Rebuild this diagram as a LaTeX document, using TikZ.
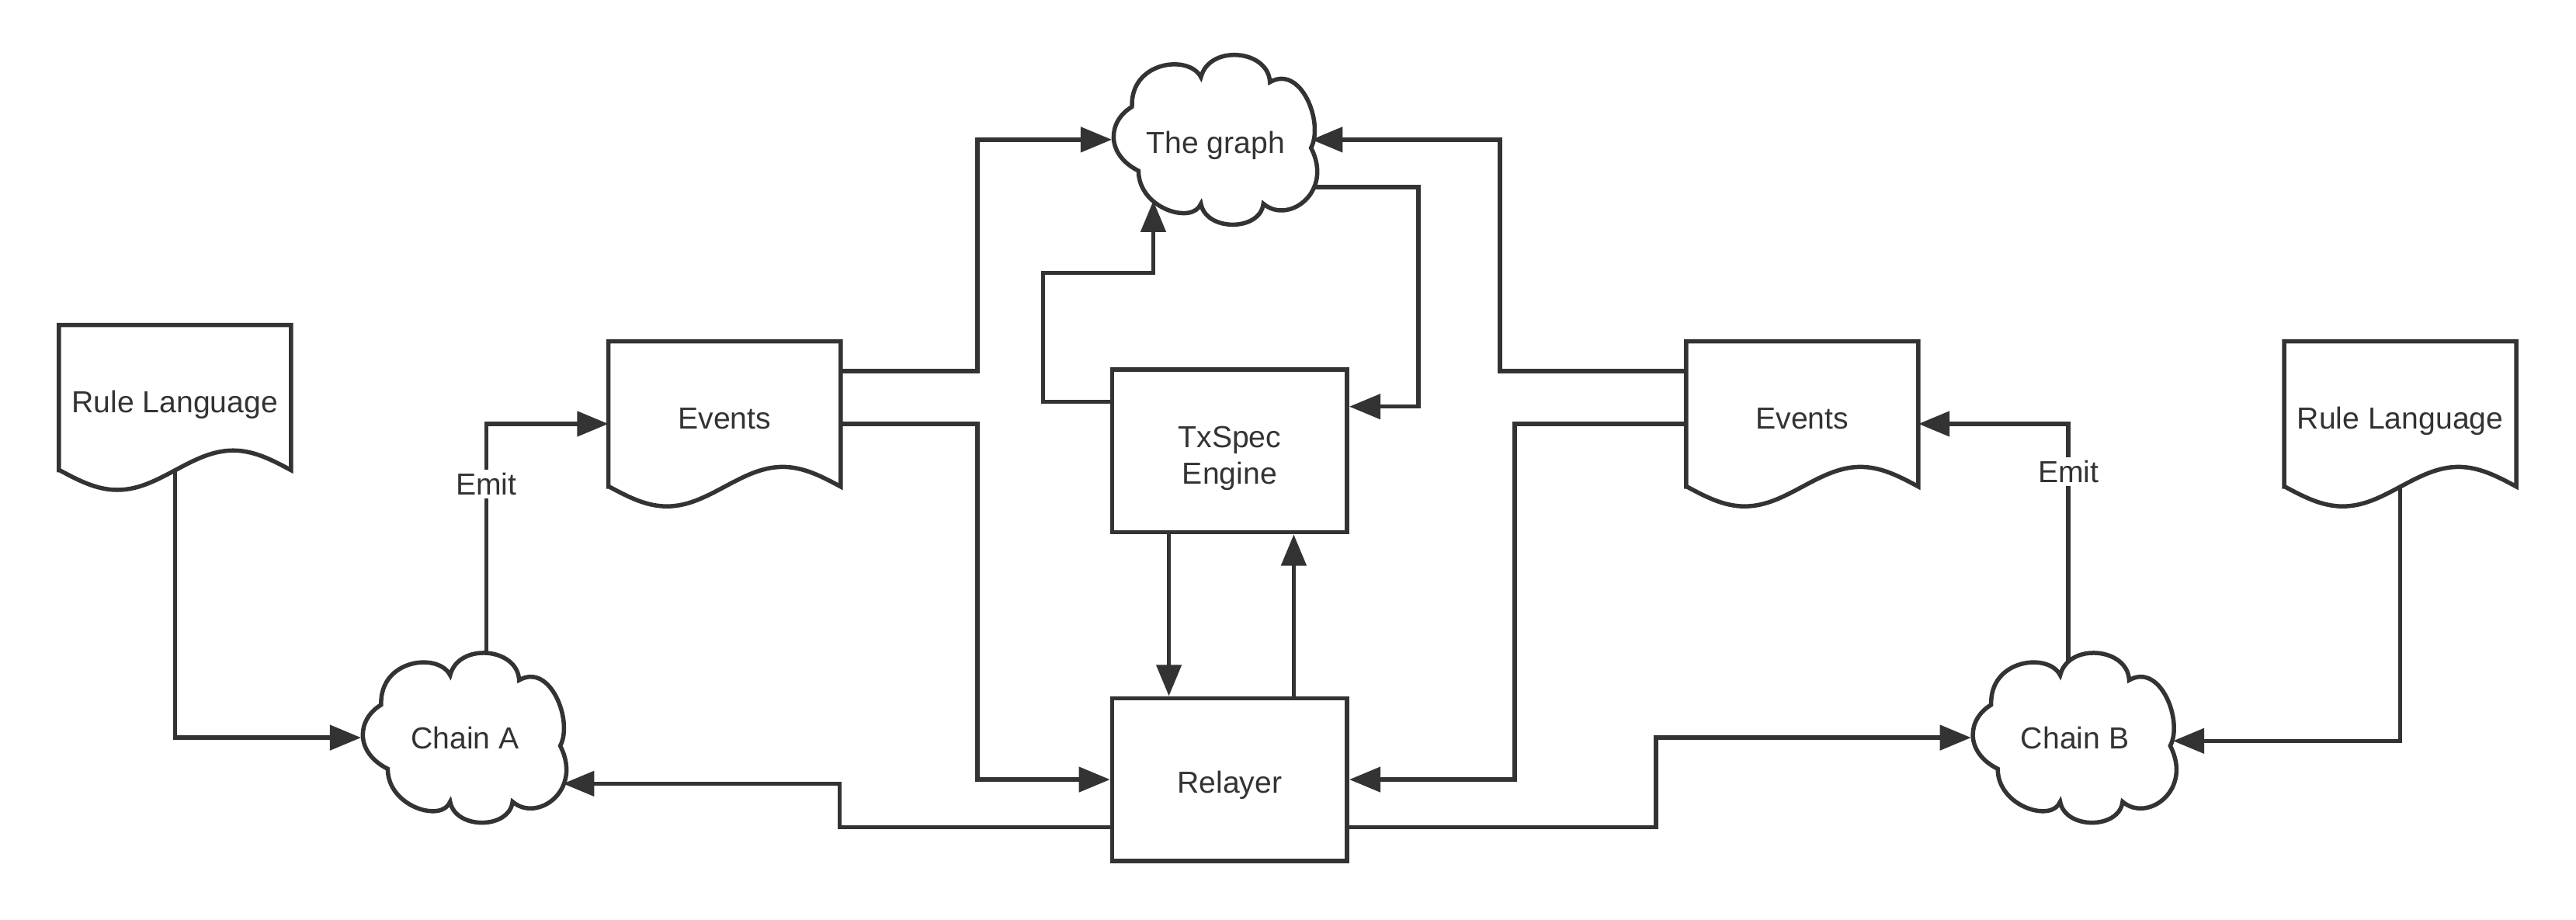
\documentclass[tikz,border=0pt]{standalone}
\usepackage{fontspec}
\setmainfont{Liberation Sans}
\usepackage{xcolor}
\usepackage{tikz}
\usetikzlibrary{
    calc,
    arrows.meta
}
\definecolor{ink}{HTML}{333333}
\tikzset{
    wire/.style={draw=ink, line width=2.6bp},
    arr/.style={wire, -{Triangle[length=19bp,width=15bp]}},
    tag/.style={fill=white, inner sep=2bp},
    box/.style={wire, minimum width=143bp, minimum height=99bp, inner sep=0pt, align=center,
        text height=16bp, text depth=0pt},
    doc/.style={minimum width=141bp, minimum height=88bp, inner sep=0pt,
        text height=18bp, text depth=0pt,
        append after command={\pgfextra{
            \draw[wire] (\tikzlastnode.south west) -- (\tikzlastnode.north west)
                -- (\tikzlastnode.north east) -- (\tikzlastnode.south east)
                sin ++(-35.25,-12) cos ++(-35.25,12) sin ++(-35.25,12) cos ++(-35.25,-12) -- cycle;
        }}},
    puffy/.style={minimum width=126bp, minimum height=100bp, inner sep=0pt,
        text height=14bp, text depth=0pt,
        append after command={\pgfextra{
            \draw[wire, shift={(\tikzlastnode.center)}]
                (-51,-20) .. controls (-66,-11) and (-67,9) .. (-47,19)
                .. controls (-47,42) and (-14,52) .. (-9,39)
                .. controls (-6,56) and (27,56) .. (29,39)
                .. controls (44,52) and (72,32) .. (58,5)
                .. controls (66,-10) and (52,-46) .. (33,-35)
                .. controls (32,-55) and (-4,-58) .. (-9,-38)
                .. controls (-16,-52) and (-52,-48) .. (-51,-20) -- cycle;
        }}}
}

\begin{document}
\begin{tikzpicture}[x=1bp, y=-1bp,
    every node/.style={text=ink, font=\fontsize{18.5bp}{22bp}\selectfont}]
    \useasboundingbox (0,0) rectangle (1568,560);

    \draw (106.5,242) node[doc](ruleA){Rule Language};
    \draw (441,252) node[doc](evA){Events};
    \draw (1097,252) node[doc](evB){Events};
    \draw (1461,252) node[doc](ruleB){Rule Language};
    \draw (740,85) node[puffy, text height=17bp](graph){The graph};
    \draw (283,449) node[puffy](chA){Chain A};
    \draw (1263,449) node[puffy](chB){Chain B};
    \draw (748.5,274.5) node[box, text height=40bp](eng){TxSpec\\Engine};
    \draw (748.5,474.5) node[box](rel){Relayer};

    % bends of the long wires
    \coordinate (busA) at (595,0);
    \coordinate (busB) at (913,0);
    \coordinate (busC) at (922,0);
    \coordinate (busE) at (511,0);
    \coordinate (busF) at (1008,0);
    \coordinate (hook) at (635,166);
    \coordinate (chA-in) at ([xshift=-3.5bp,yshift=-28bp]chA.east);
    \coordinate (chB-in) at ([xshift=-3.5bp,yshift=-2bp]chB.east);

    \draw[arr] (ruleA.south) |- (chA.west);
    \draw[arr] ([xshift=13bp]chA.north) |- node[pos=.37, tag]{Emit} ([yshift=-6bp]evA.west);
    \draw[arr] ([yshift=26bp]evA.east) -| (busA |- graph.west) -- (graph.west);
    \draw[arr] ([yshift=-6bp]evA.east) -| (busA |- rel.west) -- (rel.west);
    \draw[arr] ([yshift=30bp]eng.west) -| (hook) -| ([xshift=-38bp,yshift=13bp]graph.south);
    \draw[arr] ([xshift=-3bp,yshift=-29bp]graph.east) -| ([xshift=42bp,yshift=27bp]eng.east) -- ([yshift=27bp]eng.east);
    \draw[arr] ([yshift=26bp]evB.west) -| (busB |- graph.east) -- ([xshift=-5bp]graph.east);
    \draw[arr] ([yshift=-6bp]evB.west) -| (busC |- rel.east) -- (rel.east);
    \draw[arr] ([xshift=-37bp]eng.south) -- ([xshift=-37bp]rel.north);
    \draw[arr] ([xshift=39bp]rel.north) -- ([xshift=39bp]eng.south);
    \draw[arr] ([yshift=-29bp]rel.west) -| (busE |- chA-in) -- (chA-in);
    \draw[arr] ([yshift=-29bp]rel.east) -| (busF |- chB.west) -- (chB.west);
    \draw[arr] ([xshift=-4bp,yshift=-4bp]chB.north) |- node[pos=.4, tag]{Emit} ([yshift=-6bp]evB.east);
    \draw[arr] (ruleB.south) |- (chB-in);
\end{tikzpicture}
\end{document}
